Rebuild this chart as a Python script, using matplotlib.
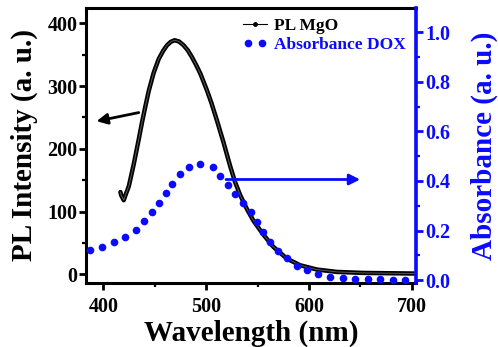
import matplotlib
matplotlib.use("Agg")
import matplotlib.pyplot as plt
from matplotlib.lines import Line2D
from matplotlib.legend_handler import HandlerLine2D

# PL MgO emission (left axis)
pl_wl = [416.5, 417.2, 419.7, 421.4, 424.6, 429.4, 434.3, 437.6, 440.8, 444.0,
         448.8, 453.7, 458.0, 461.8, 465.5, 469.2, 473.5, 477.9, 482.0, 486.1,
         490.0, 494.2, 500.7, 505.0, 510.4, 516.8, 523.3, 528.0, 533.0, 539.5,
         546.0, 555.6, 565.3, 578.3, 591.3, 607.5, 626.9, 652.7, 703.0]
pl_int = [131.0, 126.0, 118.0, 126.0, 140.0, 175.0, 215.0, 243.0, 268.0, 292.0,
          321.0, 343.0, 356.0, 365.0, 370.5, 373.0, 371.0, 365.0, 357.0, 346.0,
          334.0, 320.0, 293.0, 273.0, 245.0, 210.0, 172.0, 147.0, 126.0, 104.0,
          85.0, 63.0, 43.5, 25.0, 14.3, 7.5, 3.7, 2.1, 1.1]

# DOX absorbance (right axis)
abs_wl = [386.7, 398.7, 410.0, 421.4, 432.0, 439.8, 447.3, 454.4, 460.9, 467.0,
          474.0, 482.8, 494.2, 506.1, 513.6, 520.7, 528.4, 536.2, 543.4, 549.2,
          555.6, 562.1, 570.2, 578.9, 588.1, 597.8, 609.0, 620.4, 632.7, 645.0,
          657.0, 669.0, 681.3, 693.2]
abs_val = [0.121, 0.134, 0.152, 0.175, 0.204, 0.238, 0.275, 0.313, 0.351, 0.388,
           0.427, 0.456, 0.467, 0.457, 0.421, 0.383, 0.347, 0.313, 0.275, 0.233,
           0.192, 0.154, 0.117, 0.088, 0.058, 0.039, 0.023, 0.013, 0.009, 0.005,
           0.004, 0.003, 0.001, 0.001]

blue = '#0a0aff'
plt.rcParams['font.family'] = ['Liberation Serif', 'DejaVu Serif']
plt.rcParams['font.weight'] = 'bold'

fig = plt.figure(figsize=(4.98, 3.47), dpi=100)
ax = fig.add_axes([0.1727, 0.1844, 0.6626, 0.7936])
ax2 = ax.twinx()

# thick black trace with a faint lighter core, like the dense line+symbol plot
ax.plot(pl_wl, pl_int, color='black', lw=3.2, solid_joinstyle='round', solid_capstyle='round')
ax.plot(pl_wl, pl_int, color='#5a5a5a', lw=0.7, solid_joinstyle='round')
ax2.plot(abs_wl, abs_val, 'o', color=blue, ms=5.5, mec='none')

ax.set_xlim(383, 704)
ax.set_ylim(-14, 425)
ax2.set_ylim(-0.012, 1.1)

ax.set_xticks([400, 500, 600, 700])
ax.set_xticks([450, 550, 650], minor=True)
ax.set_yticks([0, 100, 200, 300, 400])
ax.set_yticks([50, 150, 250, 350], minor=True)
ax2.set_yticks([0.0, 0.2, 0.4, 0.6, 0.8, 1.0])
ax2.set_yticks([0.1, 0.3, 0.5, 0.7, 0.9], minor=True)
ax2.set_yticklabels(['0.0', '0.2', '0.4', '0.6', '0.8', '1.0'])

for s in ['left', 'bottom', 'top']:
    ax.spines[s].set_linewidth(2.2)
ax.spines['right'].set_visible(False)
for s in ['left', 'bottom', 'top']:
    ax2.spines[s].set_visible(False)
ax2.spines['right'].set_color(blue)
ax2.spines['right'].set_linewidth(2.6)

ax.tick_params(axis='x', which='major', direction='out', length=5, width=2, labelsize=14.5, pad=5)
ax.tick_params(axis='x', which='minor', direction='out', length=3, width=1.6)
ax.tick_params(axis='y', which='major', direction='out', length=5, width=2, labelsize=14.5, pad=1)
ax.tick_params(axis='y', which='minor', direction='out', length=3, width=1.6)
ax2.tick_params(axis='y', which='major', direction='out', length=5, width=2, labelsize=14.5,
                pad=2, color=blue, labelcolor=blue)
ax2.tick_params(axis='y', which='minor', direction='out', length=3, width=1.6, color=blue)

ax.set_xlabel('Wavelength (nm)', fontsize=21, fontweight='bold', labelpad=2)
ax.set_ylabel('PL Intensity (a. u.)', fontsize=21, fontweight='bold', labelpad=7)
ax2.set_ylabel('Absorbance (a. u.)', fontsize=21, fontweight='bold', color=blue, labelpad=14)

# arrows pointing to the matching axes
ax.annotate('', xy=(390.6, 243), xytext=(437.0, 258.6),
            arrowprops=dict(arrowstyle='-|>', color='black', lw=2, mutation_scale=16))
ax2.annotate('', xy=(652.4, 0.406), xytext=(516.5, 0.406),
             arrowprops=dict(arrowstyle='-|>', color=blue, lw=2, mutation_scale=16))

h1 = Line2D([], [], color='black', lw=0.8, marker='o', ms=2.5)
h2 = Line2D([], [], color=blue, ls='none', marker='o', ms=5.5, mec='none')
leg = ax2.legend([h1, h2], ['PL MgO', 'Absorbance DOX'], loc='upper left',
                 bbox_to_anchor=(0.45, 0.995), frameon=False, fontsize=12.5,
                 handlelength=1.4, handletextpad=0.4, labelspacing=0.15, borderpad=0,
                 handler_map={h1: HandlerLine2D(numpoints=1), h2: HandlerLine2D(numpoints=2)},
                 labelcolor=['black', blue])

fig.savefig('out.png', dpi=100)
